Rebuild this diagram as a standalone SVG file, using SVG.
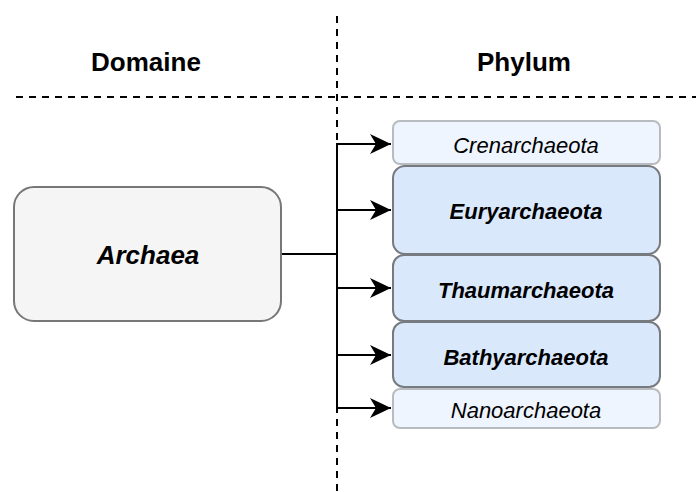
<svg xmlns="http://www.w3.org/2000/svg" width="696" height="492" viewBox="0 0 696 492">
<style>
.hdr{font-family:"Liberation Sans",Arial,sans-serif;font-weight:bold;font-size:26px;fill:#000;text-anchor:middle}
.lbl{font-family:"Liberation Sans",Arial,sans-serif;font-style:italic;font-size:22px;fill:#000;text-anchor:middle}
.b{font-weight:bold}
.big{font-size:26px}
.dash{stroke:#000;stroke-width:2;stroke-dasharray:7 6;fill:none}
.conn{stroke:#000;stroke-width:2;fill:none}
.light{fill:#eef5fe;stroke:#b8bcc0;stroke-width:2}
.dark{fill:#dae8fc;stroke:#777b80;stroke-width:2}
</style>
<defs>
<marker id="arr" markerUnits="userSpaceOnUse" markerWidth="24" markerHeight="22" refX="21" refY="10" orient="auto">
<path d="M21,10 L0,0 L6,10 L0,20 Z" fill="#000"/>
</marker>
</defs>
<rect width="696" height="492" fill="#fff"/>
<g id="dividers">
<line class="dash" x1="337" y1="16" x2="337" y2="492"/>
<line class="dash" x1="16" y1="97" x2="696" y2="97"/>
</g>
<g id="headers">
<text class="hdr" x="146" y="71">Domaine</text>
<text class="hdr" x="524" y="71">Phylum</text>
</g>
<g id="connectors">
<path class="conn" d="M282,254 H337 M337,143 V408"/>
<path class="conn" d="M337,144 H391" marker-end="url(#arr)"/>
<path class="conn" d="M337,210 H391" marker-end="url(#arr)"/>
<path class="conn" d="M337,288 H391" marker-end="url(#arr)"/>
<path class="conn" d="M337,355 H391" marker-end="url(#arr)"/>
<path class="conn" d="M337,408 H391" marker-end="url(#arr)"/>
</g>
<g id="archaea">
<rect x="14" y="187" width="267" height="134" rx="20" fill="#f5f5f5" stroke="#777" stroke-width="2"/>
<text class="lbl b big" x="148" y="264">Archaea</text>
</g>
<g id="crenarchaeota">
<rect class="light" x="393" y="121" width="267" height="43" rx="7"/>
<text class="lbl" x="526" y="153">Crenarchaeota</text>
</g>
<g id="euryarchaeota">
<rect class="dark" x="393" y="166" width="267" height="88" rx="12"/>
<text class="lbl b" x="526" y="219">Euryarchaeota</text>
</g>
<g id="thaumarchaeota">
<rect class="dark" x="393" y="255" width="267" height="66" rx="11"/>
<text class="lbl b" x="526" y="298">Thaumarchaeota</text>
</g>
<g id="bathyarchaeota">
<rect class="dark" x="393" y="322" width="267" height="65" rx="11"/>
<text class="lbl b" x="526" y="365">Bathyarchaeota</text>
</g>
<g id="nanoarchaeota">
<rect class="light" x="393" y="389" width="267" height="39" rx="7"/>
<text class="lbl" x="526" y="418">Nanoarchaeota</text>
</g>
</svg>
